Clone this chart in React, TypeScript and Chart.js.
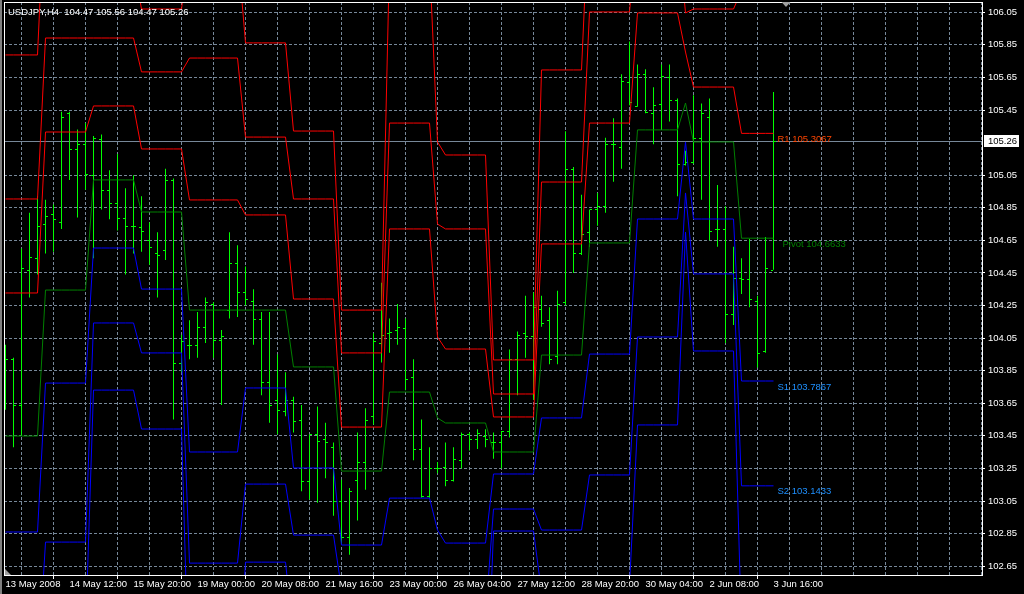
import React, { useEffect, useRef } from "react";
import { Chart, registerables } from "chart.js";

Chart.register(...registerables);

// ---------- data ----------
const symbolTitle = "USDJPY,H4";

const xLabels = [
  "13 May 2008", "14 May 12:00", "15 May 20:00", "19 May 00:00", "20 May 08:00",
  "21 May 16:00", "23 May 00:00", "26 May 04:00", "27 May 12:00", "28 May 20:00",
  "30 May 04:00", "2 Jun 08:00", "3 Jun 16:00",
];
const xLabelBars = [0, 8, 16, 24, 32, 40, 48, 56, 64, 72, 80, 88, 96];

const yTicks = [
  106.05, 105.85, 105.65, 105.45, 105.05, 104.85, 104.65, 104.45, 104.25,
  104.05, 103.85, 103.65, 103.45, 103.25, 103.05, 102.85, 102.65,
];
const bidPrice = 105.26;

const opens = [
  103.91, 103.92, 103.64, 104.47, 104.54, 104.75, 104.81, 104.76, 105.43, 105.21,
  105.24, 105.05, 105.27, 104.96, 104.88, 104.79, 104.74, 104.73, 104.65, 104.57,
  104.59, 105.02, 103.90, 104.01, 104.01, 104.12, 104.26, 104.04, 104.22, 104.51,
  104.33, 104.28, 104.17, 103.78, 103.67, 103.60, 103.67, 103.55, 103.17, 103.46,
  103.43, 103.38, 103.05, 102.83, 103.18, 103.29, 103.57, 104.02, 104.08, 104.10,
  104.11, 103.81, 103.37, 103.08, 103.25, 103.26, 103.18, 103.30, 103.46, 103.43,
  103.45, 103.41, 103.41, 103.48, 103.92, 104.08, 104.06, 104.23, 104.16, 103.94,
  104.27, 105.09, 104.57, 104.70, 104.84, 104.86, 105.24, 105.22, 105.62, 105.475,
  105.67, 105.43, 105.49, 105.65, 105.51, 105.12, 105.13, 105.28, 105.41, 104.72,
  104.72, 104.20, 104.42, 104.41, 104.28, 103.97, 104.47,
];
const highs = [
  104.01, 103.93, 104.60, 104.82, 104.92, 104.90, 104.87, 105.44, 105.44, 105.33,
  105.37, 105.29, 105.30, 105.08, 105.18, 104.97, 105.05, 104.92, 104.76, 104.70,
  105.09, 105.03, 104.07, 104.16, 104.21, 104.30, 104.27, 104.10, 104.70, 104.62,
  104.49, 104.35, 104.21, 104.21, 103.95, 103.84, 103.69, 103.64, 103.46, 103.63,
  103.53, 103.41, 103.18, 103.13, 103.47, 103.62, 104.08, 104.39, 104.17, 104.26,
  104.17, 103.92, 103.55, 103.38, 103.29, 103.41, 103.38, 103.47, 103.47, 103.49,
  103.49, 103.47, 103.48, 103.98, 104.09, 104.31, 104.33, 104.31, 104.24, 104.34,
  105.32, 105.10, 104.93, 104.84, 104.94, 105.28, 105.40, 105.67, 105.87, 105.73,
  105.70, 105.59, 105.73, 105.73, 105.52, 105.20, 105.54, 105.49, 105.52, 104.99,
  104.86, 104.61, 104.54, 104.66, 104.31, 104.67, 105.56,
];
const lows = [
  103.61, 103.38, 103.45, 104.30, 104.44, 104.57, 104.58, 104.72, 105.02, 104.79,
  104.96, 104.54, 104.84, 104.78, 104.71, 104.44, 104.57, 104.58, 104.50, 104.30,
  104.53, 103.55, 103.84, 103.92, 103.93, 104.02, 103.93, 103.64, 104.17, 104.18,
  104.25, 104.01, 103.70, 103.53, 103.46, 103.57, 103.47, 103.11, 103.06, 103.04,
  103.19, 102.96, 102.78, 102.72, 102.93, 103.12, 103.52, 103.90, 103.96, 104.01,
  103.73, 103.30, 103.07, 103.07, 103.22, 103.14, 103.17, 103.25, 103.36, 103.37,
  103.38, 103.31, 103.25, 103.44, 103.70, 103.93, 103.67, 104.12, 103.89, 103.89,
  104.25, 104.45, 104.56, 104.61, 104.74, 104.82, 105.01, 105.09, 105.48, 105.47,
  105.43, 105.24, 105.33, 105.38, 104.92, 105.11, 105.12, 104.90, 104.65, 104.61,
  104.02, 104.13, 104.32, 104.24, 103.87, 103.96, 104.47,
];
const closes = [
  103.92, 103.64, 104.48, 104.55, 104.74, 104.80, 104.78, 105.41, 105.21, 105.24,
  105.06, 105.28, 104.96, 104.88, 104.79, 104.74, 104.74, 104.71, 104.61, 104.56,
  105.02, 103.90, 104.03, 104.01, 104.12, 104.27, 104.04, 104.06, 104.51, 104.33,
  104.29, 104.17, 103.78, 103.64, 103.61, 103.67, 103.54, 103.17, 103.46, 103.42,
  103.41, 103.05, 102.83, 103.11, 103.29, 103.55, 104.03, 104.07, 104.09, 104.12,
  103.80, 103.37, 103.08, 103.25, 103.25, 103.18, 103.31, 103.46, 103.43, 103.47,
  103.43, 103.41, 103.48, 103.92, 104.07, 104.06, 104.24, 104.14, 103.92, 104.26,
  105.09, 104.57, 104.69, 104.84, 104.86, 105.24, 105.24, 105.63, 105.50, 105.67,
  105.44, 105.48, 105.66, 105.51, 105.12, 105.13, 105.28, 105.43, 104.71, 104.72,
  104.20, 104.42, 104.41, 104.29, 103.96, 104.48, 105.26,
];

// pivot periods: first bar index of each period
const periodStart = [0, 5, 11, 17, 23, 30, 36, 42, 48, 54, 55, 61, 67, 73, 79, 85, 86, 92];
const r3Levels = [105.788, 106.856, 106.347, 106.070, 106.445, 105.862, 105.321, 104.222, 106.371, 105.254, 105.174, 103.916, 105.696, 106.789, 107.323, 106.359, 106.402, 106.8267];
const r2Levels = [104.904, 105.892, 105.892, 105.684, 105.769, 105.284, 104.904, 103.959, 105.370, 104.750, 104.720, 103.707, 105.008, 106.052, 106.598, 106.046, 106.070, 106.1833];
const r1Levels = [104.327, 105.315, 105.475, 105.211, 104.898, 104.806, 104.290, 103.504, 104.720, 104.057, 103.983, 103.566, 104.628, 105.370, 106.046, 105.806, 105.591, 105.3067];
const pivotLevels = [103.449, 104.345, 105.021, 104.824, 104.222, 104.222, 103.873, 103.234, 103.719, 103.560, 103.529, 103.351, 103.946, 104.634, 105.328, 105.493, 105.254, 104.6633];
const s1Levels = [102.860, 103.774, 104.603, 104.351, 103.351, 103.744, 103.253, 102.780, 103.068, 102.872, 102.792, 103.216, 103.560, 103.952, 104.781, 105.254, 104.781, 103.7867];
const s2Levels = [101.982, 102.798, 104.143, 103.959, 102.669, 103.154, 102.841, 102.510, 102.068, 102.375, 102.338, 103.001, 102.872, 103.210, 104.057, 104.941, 104.444, 103.1433];
const s3Levels = [101.393, 102.234, 103.731, 103.492, 101.804, 102.675, 102.215, 102.056, 101.417, 101.687, 101.601, 102.866, 102.491, 102.534, 103.517, 104.701, 103.971, 102.2667];

const FONT = "'Liberation Sans', Arial, sans-serif";
const GRID = "#778899";

export default function App() {
  const ref = useRef<HTMLCanvasElement>(null);

  useEffect(() => {
    document.body.style.margin = "0";
    document.body.style.background = "#000";
    const canvas = ref.current;
    if (!canvas) return;

    const n = opens.length;
    const idx = Array.from({ length: n }, (_, i) => i);
    const periodOf = (i: number) => {
      let k = 0;
      for (let j = 0; j < periodStart.length; j++) if (periodStart[j] <= i) k = j;
      return k;
    };
    const levelData = (arr: number[]) => idx.map((i) => ({ x: i, y: arr[periodOf(i)] }));
    const mkLine = (label: string, arr: number[], color: string) => ({
      type: "line" as const,
      label,
      data: levelData(arr),
      borderColor: color,
      backgroundColor: color,
      borderWidth: 1,
      pointRadius: 0,
      tension: 0,
      fill: false,
      order: 1,
    });

    const last = n - 1;
    const lastP = periodStart.length - 1;

    const mtPlugin = {
      id: "mt",
      beforeDraw(chart: any) {
        const c = chart.ctx;
        c.save();
        c.fillStyle = "#000";
        c.fillRect(0, 0, chart.width, chart.height);
        c.restore();
      },
      beforeDatasetsDraw(chart: any) {
        const c = chart.ctx;
        const a = chart.chartArea;
        const y = Math.round(chart.scales.y.getPixelForValue(bidPrice));
        c.save();
        c.fillStyle = GRID;
        c.fillRect(a.left, y, a.right - a.left, 1);
        c.restore();
      },
      afterDatasetDraw(chart: any, args: any) {
        if (args.index !== 0) return;
        const c = chart.ctx;
        const xs = chart.scales.x;
        const ys = chart.scales.y;
        const a = chart.chartArea;
        c.save();
        c.beginPath();
        c.rect(a.left, a.top, a.right - a.left, a.bottom - a.top);
        c.clip();
        c.fillStyle = "#00FF00";
        for (let i = 0; i < n; i++) {
          const x = Math.floor(xs.getPixelForValue(i));
          const yo = Math.round(ys.getPixelForValue(opens[i]));
          const yc = Math.round(ys.getPixelForValue(closes[i]));
          c.fillRect(x - 2, yo, 2, 1);
          c.fillRect(x + 1, yc, 2, 1);
        }
        c.restore();
      },
      afterDraw(chart: any) {
        const c = chart.ctx;
        const a = chart.chartArea;
        const xs = chart.scales.x;
        const ys = chart.scales.y;
        c.save();
        // window edge
        c.fillStyle = "#808080";
        c.fillRect(0, 0, 2, chart.height);
        // frame
        c.strokeStyle = "#FFFFFF";
        c.lineWidth = 1;
        c.strokeRect(a.left + 0.5, a.top + 0.5, a.right - a.left, a.bottom - a.top);

        // pivot labels
        c.font = `9.5px ${FONT}`;
        c.textBaseline = "alphabetic";
        c.textAlign = "left";
        const lx = xs.getPixelForValue(last);
        const labels = [
          { t: "R1 " + r1Levels[lastP].toFixed(4), v: r1Levels[lastP], col: "#FF4500", dx: 4 },
          { t: "Pivot " + pivotLevels[lastP].toFixed(4), v: pivotLevels[lastP], col: "#008000", dx: 9 },
          { t: "S1 " + s1Levels[lastP].toFixed(4), v: s1Levels[lastP], col: "#1E90FF", dx: 4 },
          { t: "S2 " + s2Levels[lastP].toFixed(4), v: s2Levels[lastP], col: "#1E90FF", dx: 4 },
        ];
        labels.forEach((l) => {
          c.fillStyle = l.col;
          c.fillText(l.t, lx + l.dx, ys.getPixelForValue(l.v) + 8.5);
        });

        // title
        c.fillStyle = "#FFFFFF";
        c.fillText(
          `${symbolTitle}  ${opens[last].toFixed(2)} ${highs[last].toFixed(2)} ${lows[last].toFixed(2)} ${closes[last].toFixed(2)}`,
          8, 14.5
        );

        // current price box
        const by = Math.round(ys.getPixelForValue(bidPrice));
        c.fillStyle = "#FFFFFF";
        c.fillRect(a.right + 2, by - 6, 35, 12);
        c.fillStyle = "#000000";
        c.textBaseline = "middle";
        c.fillText(bidPrice.toFixed(2), a.right + 6, by + 0.5);

        // shift markers
        c.fillStyle = "#A0A0A0";
        const sx = xs.getPixelForValue(last + 1.5);
        c.beginPath();
        c.moveTo(sx - 4, a.top);
        c.lineTo(sx + 5, a.top);
        c.lineTo(sx + 0.5, a.top + 5);
        c.closePath();
        c.fill();
        c.beginPath();
        c.moveTo(a.left + 1, a.bottom);
        c.lineTo(a.left + 7, a.bottom);
        c.lineTo(a.left + 1, a.bottom - 6);
        c.closePath();
        c.fill();
        c.restore();
      },
    };

    const chart = new Chart(canvas, {
      type: "bar",
      data: {
        datasets: [
          {
            type: "bar" as const,
            label: "bars",
            data: idx.map((i) => ({ x: i, y: [lows[i], highs[i]] })) as any,
            backgroundColor: "#00FF00",
            borderWidth: 0,
            barThickness: 1,
            grouped: false,
            inflateAmount: 0,
            order: 10,
          } as any,
          mkLine("R3", r3Levels, "#FF0000"),
          mkLine("R2", r2Levels, "#FF0000"),
          mkLine("R1", r1Levels, "#FF0000"),
          mkLine("Pivot", pivotLevels, "#008000"),
          mkLine("S1", s1Levels, "#0000FF"),
          mkLine("S2", s2Levels, "#0000FF"),
          mkLine("S3", s3Levels, "#0000FF"),
        ],
      },
      plugins: [mtPlugin],
      options: {
        responsive: false,
        maintainAspectRatio: false,
        devicePixelRatio: 1,
        animation: false,
        events: [],
        layout: { padding: { top: 2, left: 4, right: 0, bottom: 0 } },
        plugins: { legend: { display: false }, tooltip: { enabled: false } },
        scales: {
          x: {
            type: "linear",
            min: -0.1875,
            max: 122.0625,
            offset: false,
            afterBuildTicks: (scale: any) => {
              const t: any[] = [];
              for (let v = 0; v <= 120; v += 4) t.push({ value: v });
              scale.ticks = t;
            },
            afterFit: (scale: any) => {
              scale.height = 19;
              scale.paddingLeft = 0;
              scale.paddingRight = 0;
            },
            grid: {
              color: (ctx: any) => (ctx.tick && ctx.tick.value === 0 ? "rgba(0,0,0,0)" : GRID),
              tickColor: (ctx: any) =>
                ctx.tick && xLabelBars.includes(ctx.tick.value) ? "#FFFFFF" : "rgba(0,0,0,0)",
              tickLength: 4,
              lineWidth: 1,
            },
            border: { display: false, dash: [3, 2] },
            ticks: {
              autoSkip: false,
              maxRotation: 0,
              minRotation: 0,
              align: "start",
              padding: 0,
              color: "#FFFFFF",
              font: { family: FONT, size: 9.5 },
              callback: (v: any) => {
                const k = xLabelBars.indexOf(Number(v));
                return k >= 0 ? xLabels[k] : "";
              },
            },
          } as any,
          y: {
            type: "linear",
            position: "right",
            min: 102.596,
            max: 106.113,
            afterBuildTicks: (scale: any) => {
              scale.ticks = yTicks.map((v) => ({ value: v }));
            },
            afterFit: (scale: any) => {
              scale.width = 42;
              scale.paddingTop = 0;
              scale.paddingBottom = 0;
            },
            grid: {
              color: GRID,
              tickColor: "#FFFFFF",
              tickLength: 3,
              lineWidth: 1,
            },
            border: { display: false, dash: [3, 2] },
            ticks: {
              padding: 3,
              color: "#FFFFFF",
              font: { family: FONT, size: 9.5 },
              callback: (v: any) => Number(v).toFixed(2),
            },
          } as any,
        },
      },
    });

    return () => chart.destroy();
  }, []);

  return (
    <div style={{ width: 1024, height: 594, background: "#000", overflow: "hidden" }}>
      <canvas ref={ref} width={1024} height={594} style={{ display: "block" }} />
    </div>
  );
}
